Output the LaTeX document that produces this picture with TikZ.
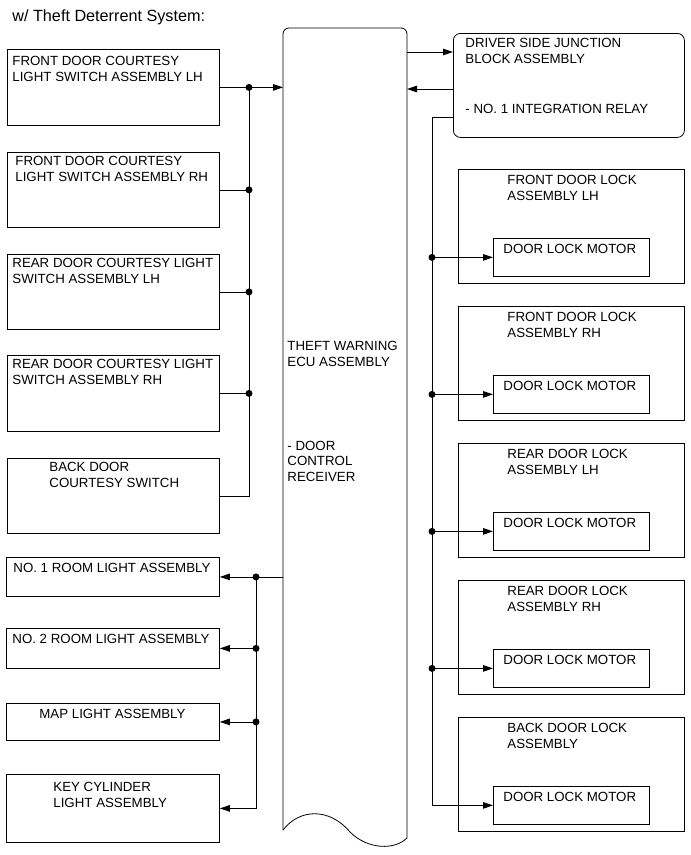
\documentclass[tikz,border=0pt]{standalone}
\usepackage{fontspec}
\setmainfont{Liberation Sans}
\usetikzlibrary{arrows.meta}
\tikzset{
  box/.style={draw,inner sep=0pt,anchor=north west},
  lbl/.style={anchor=base west,inner sep=0pt,align=left},
  arr/.style={-{Triangle[length=10pt,width=6.5pt]}},
  dot/.style={circle,fill,inner sep=0pt,minimum size=7pt},
}
\begin{document}
\begin{tikzpicture}[x=1pt,y=-1pt,font=\fontsize{13.3}{15.3}\selectfont,line width=0.8pt]
  \useasboundingbox (0,0) rectangle (691,855);
  \node[lbl,font=\fontsize{16.2}{18}\selectfont] (title) at (12,21) {w/ Theft Deterrent System:};
  % theft warning ECU, cut off at the bottom
  \coordinate (ecuw) at (283,28);
  \coordinate (ecue) at (407,28);
  \draw[rounded corners=6pt] (283,830) -- (ecuw) -- (ecue) -- (407,838);
  \draw (283,830) .. controls (300,808) and (330,808) .. (350,832) .. controls (368,850) and (395,850) .. (407,838);
  % multi-line labels sit on the baseline of their last line
  \node[lbl] (ecut) at (287,366) {THEFT WARNING\\ECU ASSEMBLY};
  \node[lbl] (ecur) at (287,481) {- DOOR\\CONTROL\\RECEIVER};
  % courtesy switches
  \node[box,minimum width=212pt,minimum height=76pt] (b1) at (7,49) {};
  \node[lbl] (t1) at (12,81) {FRONT DOOR COURTESY\\LIGHT SWITCH ASSEMBLY LH};
  \node[box,minimum width=212pt,minimum height=75pt] (b2) at (7,152) {};
  \node[lbl] (t2) at (15,181) {FRONT DOOR COURTESY\\LIGHT SWITCH ASSEMBLY RH};
  \node[box,minimum width=212pt,minimum height=75pt] (b3) at (7,254) {};
  \node[lbl] (t3) at (12,283) {REAR DOOR COURTESY LIGHT\\SWITCH ASSEMBLY LH};
  \node[box,minimum width=212pt,minimum height=76pt] (b4) at (7,355) {};
  \node[lbl] (t4) at (12,384) {REAR DOOR COURTESY LIGHT\\SWITCH ASSEMBLY RH};
  \node[box,minimum width=212pt,minimum height=75pt] (b5) at (7,458) {};
  \node[lbl] (t5) at (49,487) {BACK DOOR\\COURTESY SWITCH};
  % lights
  \node[box,minimum width=213pt,minimum height=39pt] (b6) at (6,557) {};
  \node[lbl] (t6) at (13,572) {NO. 1 ROOM LIGHT ASSEMBLY};
  \node[box,minimum width=213pt,minimum height=40pt] (b7) at (6,628) {};
  \node[lbl] (t7) at (12,643) {NO. 2 ROOM LIGHT ASSEMBLY};
  \node[box,minimum width=213pt,minimum height=37pt] (b8) at (6,703) {};
  \node[lbl] (t8) at (39,718) {MAP LIGHT ASSEMBLY};
  \node[box,minimum width=213pt,minimum height=68pt] (b9) at (6,774) {};
  \node[lbl] (t9) at (53,807) {KEY CYLINDER\\LIGHT ASSEMBLY};
  % junction block
  \node[box,rounded corners=7pt,minimum width=231pt,minimum height=104pt] (jb) at (453,33) {};
  \node[lbl] (jbt) at (465,63) {DRIVER SIDE JUNCTION\\BLOCK ASSEMBLY};
  \node[lbl] (jbr) at (465,113) {- NO. 1 INTEGRATION RELAY};
  % door locks
  \foreach \i/\ty/\wh/\sd in {1/169/FRONT/LH,2/306/FRONT/RH,3/443/REAR/LH,4/580/REAR/RH,5/717/BACK/} {
    \node[box,minimum width=226pt,minimum height=114pt] (lk\i) at (458,\ty) {};
    \node[lbl] (lt\i) at (507,\ty+31) {\wh\ DOOR LOCK\\ASSEMBLY \sd};
    \node[box,minimum width=156pt,minimum height=38pt] (m\i) at (493,\ty+69) {};
    \node[lbl] (mt\i) at (503,\ty+84) {DOOR LOCK MOTOR};
  }
  % switch inputs
  \coordinate (busl) at (249,0);
  \draw[arr] (b1.east) -- (ecuw |- b1.east);
  \draw (busl |- b1.east) -- (busl |- b5.east) -- (b5.east);
  \foreach \b in {2,3,4}
    \draw (b\b.east) -- (busl |- b\b.east);
  \foreach \b in {1,2,3,4}
    \node[dot] (d\b) at (busl |- b\b.east) {};
  % light outputs
  \coordinate (busm) at (256,0);
  \draw[arr] (ecuw |- b6.east) -- (b6.east);
  \draw[arr] (busm |- b6.east) |- (b9.east);
  \foreach \b in {7,8}
    \draw[arr] (busm |- b\b.east) -- (b\b.east);
  \foreach \b in {6,7,8}
    \node[dot] (d\b) at (busm |- b\b.east) {};
  % junction block and lock motors
  \coordinate (ja) at (0,52);
  \coordinate (jc) at (0,89);
  \coordinate (busr) at (432,117);
  \draw[arr] (ecue |- ja) -- (jb.west |- ja);
  \draw[arr] (jb.west |- jc) -- (ecue |- jc);
  \draw[arr] (jb.west |- busr) -- (busr) |- (m5.west);
  \foreach \i in {1,...,4} {
    \draw[arr] (busr |- m\i.west) -- (m\i.west);
    \node[dot] (e\i) at (busr |- m\i.west) {};
  }
\end{tikzpicture}
\end{document}
